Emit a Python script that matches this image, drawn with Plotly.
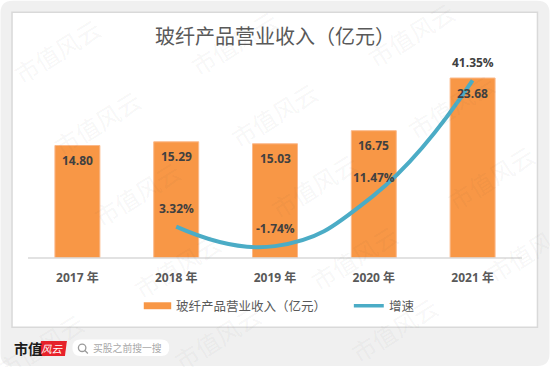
import plotly.graph_objects as go

categories = ["2017 年", "2018 年", "2019 年", "2020 年", "2021 年"]
revenue = [14.80, 15.29, 15.03, 16.75, 23.68]
growth_categories = ["2018 年", "2019 年", "2020 年", "2021 年"]
growth = [3.32, -1.74, 11.47, 41.35]
title_text = "玻纤产品营业收入（亿元）"
series_bar = "玻纤产品营业收入（亿元）"
series_line = "增速"
watermark = "市值风云"

W, H = 550, 367
L, R, T, B = 27.5, 27.5, 67.5, 108.5
ORANGE = "#F89746"
BLUE = "#4BACC6"
INK = "#404040"
LATIN = "Open Sans, Noto Sans CJK SC, sans-serif"
CJK = "Noto Sans CJK SC, sans-serif"

def X(x): return (x - L) / (W - L - R)
def Y(y): return 1 - (y - T) / (H - T - B)

fig = go.Figure()
fig.add_bar(x=categories, y=revenue, name=series_bar, width=0.455,
            marker=dict(color=ORANGE, line=dict(color="#FBB98A", width=1)),
            showlegend=False, cliponaxis=False)
fig.add_scatter(x=growth_categories, y=growth, name=series_line, yaxis="y2",
                mode="lines", line=dict(color=BLUE, width=4, shape="spline", smoothing=1.3),
                showlegend=False, cliponaxis=False)

ann = []
for c, v in zip(categories, revenue):
    ann.append(dict(x=c, y=v, xref="x", yref="y", text=f"{v:.2f}", showarrow=False, yshift=-15,
                    font=dict(family=LATIN, size=12, color=INK, weight="bold")))
for c, v in zip(growth_categories, growth):
    ann.append(dict(x=c, y=v, xref="x", yref="y2", text=f"{v:.2f}%", showarrow=False, yshift=18,
                    font=dict(family=LATIN, size=12, color=INK, weight="bold")))

def px(x, y, text, size, color, anchor="center", fk=None):
    return dict(x=X(x), y=Y(y), xref="paper", yref="paper", text=text, showarrow=False,
                xanchor=anchor, yanchor="middle", font=dict(size=size, color=color, family=CJK, **(fk or {})))

ann.append(px(275, 35, title_text, 20, "#595959"))
ann.append(px(174, 306, series_bar, 12.5, "#595959", anchor="left"))
ann.append(px(387, 306, series_line, 12.5, "#595959", anchor="left"))
ann.append(px(11, 349, "市值", 14, "#1a1a1a", anchor="left", fk=dict(weight="bold")))
ann.append(px(52, 349.5, "风云", 10.5, "#ffffff", fk=dict(style="italic")))
ann.append(px(91, 349, "买股之前搜一搜", 9.8, "#a8a8a8", anchor="left"))

# watermark lattice
for i in range(-2, 5):
    for j in range(-1, 6):
        cx = 57 + 177 * i + 40 * j
        cy = 50 - 8 * i + 72 * j
        if 0 < cx < 550 and 10 < cy < 360:
            a = px(cx, cy, watermark, 24, "rgba(60,60,60,0.055)")
            a["textangle"] = -32
            ann.append(a)

def rounded(x0, y0, x1, y1, r):
    def q(cx, cy, ex, ey):
        return f"Q{X(cx):.5f},{Y(cy):.5f} {X(ex):.5f},{Y(ey):.5f}"
    return (f"M{X(x0+r):.5f},{Y(y0):.5f} L{X(x1-r):.5f},{Y(y0):.5f} {q(x1,y0,x1,y0+r)} "
            f"L{X(x1):.5f},{Y(y1-r):.5f} {q(x1,y1,x1-r,y1)} L{X(x0+r):.5f},{Y(y1):.5f} {q(x0,y1,x0,y1-r)} "
            f"L{X(x0):.5f},{Y(y0+r):.5f} {q(x0,y0,x0+r,y0)} Z")

def shape_px(**kw):
    return dict(xref="x domain", yref="y domain", **kw)

def P(pts):
    return "M" + " L".join(f"{X(x):.5f},{Y(y):.5f}" for x, y in pts) + " Z"

shapes = [
    shape_px(type="path", path=rounded(0, 0, 550, 367, 12), layer="below", fillcolor="#F0F0F0", line=dict(width=0)),
    shape_px(type="rect", x0=X(11.5), x1=X(538), y0=Y(11.5), y1=Y(328), layer="below",
             fillcolor="#FFFFFF", line=dict(color="#D9D9D9", width=1.5)),
    shape_px(type="line", x0=X(27.5), x1=X(522.5), y0=Y(258.5), y1=Y(258.5), line=dict(color="#D9D9D9", width=1.5)),
    shape_px(type="rect", x0=X(143.5), x1=X(171), y0=Y(303), y1=Y(310), fillcolor=ORANGE, line=dict(width=0)),
    shape_px(type="line", x0=X(354), x1=X(384), y0=Y(306.5), y1=Y(306.5), line=dict(color=BLUE, width=3.5)),
    shape_px(type="path", path=P([(40.5, 342), (66.5, 342), (64.5, 357), (38, 357)]), fillcolor="#E8222A", line=dict(width=0)),
    shape_px(type="path", path=rounded(72, 340.5, 169, 357, 8), fillcolor="#FFFFFF", line=dict(width=0)),
    shape_px(type="circle", x0=X(78), x1=X(85.5), y0=Y(345), y1=Y(352.5), line=dict(color="#9a9a9a", width=1.3)),
    shape_px(type="line", x0=X(84.5), x1=X(87.5), y0=Y(351.5), y1=Y(354.5), line=dict(color="#9a9a9a", width=1.3)),
]

fig.update_layout(
    width=W, height=H, autosize=False,
    margin=dict(l=L, r=R, t=T, b=B, pad=0),
    paper_bgcolor="#FFFFFF", plot_bgcolor="rgba(0,0,0,0)",
    showlegend=False, annotations=ann, shapes=shapes,
    xaxis=dict(type="category", categoryorder="array", categoryarray=categories, range=[-0.5, 4.5],
               showgrid=False, showline=False, zeroline=False, ticks="outside", ticklen=9, tickcolor="rgba(0,0,0,0)",
               tickfont=dict(family=LATIN, size=12, color="#595959", weight="bold"), fixedrange=True),
    yaxis=dict(range=[0, 25], visible=False, fixedrange=True),
    yaxis2=dict(range=[-4.83, 44.59], overlaying="y", side="right", visible=False, fixedrange=True),
)
fig.write_html("out.html", config=dict(displayModeBar=False), post_script="document.body.style.margin='0';")
